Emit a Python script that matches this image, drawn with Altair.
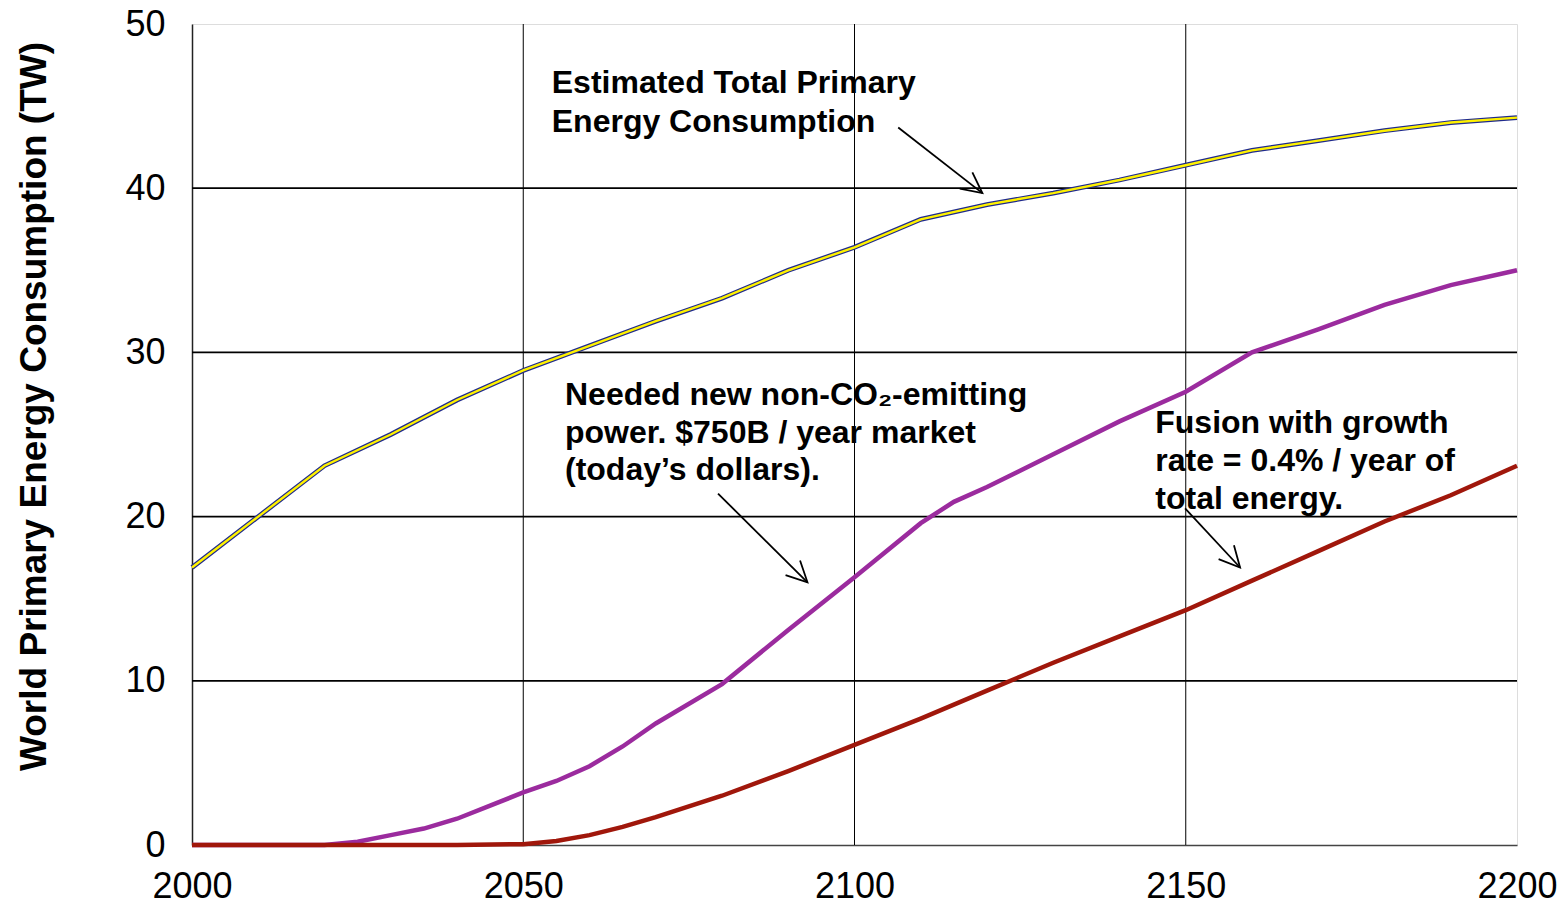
import altair as alt
import pandas as pd

# ---- data ----
total_years = [2000, 2010, 2020, 2030, 2040, 2050, 2060, 2070, 2080, 2090, 2100,
               2110, 2120, 2130, 2140, 2150, 2160, 2170, 2180, 2190, 2200]
total_vals = [16.9, 20.0, 23.1, 25.0, 27.1, 28.9, 30.4, 31.9, 33.3, 35.0, 36.4,
              38.1, 39.0, 39.7, 40.5, 41.4, 42.3, 42.9, 43.5, 44.0, 44.3]

needed_years = [2000, 2010, 2020, 2025, 2030, 2035, 2040, 2045, 2050, 2055, 2060,
                2065, 2070, 2080, 2090, 2100, 2110, 2115, 2120, 2130, 2140, 2150,
                2160, 2170, 2180, 2190, 2200]
needed_vals = [0, 0, 0, 0.2, 0.6, 1.0, 1.6, 2.4, 3.2, 3.9, 4.8,
               6.0, 7.4, 9.8, 13.1, 16.3, 19.6, 20.9, 21.8, 23.8, 25.8, 27.6,
               30.0, 31.4, 32.9, 34.1, 35.0]

fusion_years = [2000, 2040, 2050, 2055, 2060, 2065, 2070, 2080, 2090, 2100, 2110,
                2120, 2130, 2140, 2150, 2160, 2170, 2180, 2190, 2200]
fusion_vals = [0, 0, 0.05, 0.25, 0.6, 1.1, 1.7, 3.0, 4.5, 6.1, 7.7,
               9.4, 11.1, 12.7, 14.3, 16.1, 17.9, 19.7, 21.3, 23.1]

x_ticks = [2000, 2050, 2100, 2150, 2200]
y_ticks = [0, 10, 20, 30, 40, 50]
h_grid = [10, 20, 30, 40]
v_grid = [2050, 2100, 2150]

# annotation text lines: left x (year), baseline y (TW)
ann_text = ["Estimated Total Primary", "Energy Consumption",
            "Needed new non-CO\u2082-emitting", "power. $750B / year market", "(today\u2019s dollars).",
            "Fusion with growth", "rate = 0.4% / year of", "total energy."]
ann_x = [2054.3, 2054.3, 2056.3, 2056.3, 2056.3, 2145.4, 2145.4, 2145.4]
ann_y = [45.8, 43.45, 26.8, 24.5, 22.25, 25.1, 22.75, 20.45]

# arrows: tail -> tip
arr_x = [2106.6, 2079.4, 2149.9]
arr_y = [43.7, 21.4, 20.5]
arr_x2 = [2119.3, 2092.9, 2158.2]
arr_y2 = [39.7, 16.0, 16.9]
arr_angle = [37.7, 44.7, 48.0]

FONT = "Liberation Sans"
Y_TITLE = "World Primary Energy Consumption (TW)"

rows = []
for name, ys, vs in [("needed", needed_years, needed_vals),
                     ("fusion", fusion_years, fusion_vals),
                     ("total", total_years, total_vals)]:
    for yr, v in zip(ys, vs):
        rows.append({"year": yr, "value": v, "series": name})
df = pd.DataFrame(rows)

xscale = alt.Scale(domain=[2000, 2200], nice=False, zero=False)
yscale = alt.Scale(domain=[0, 50], nice=False)

X_AXIS = alt.Axis(values=x_ticks, format="d", title=None, labelFontSize=36, labelFont=FONT,
                  labelColor="black", labelPadding=24, ticks=False, grid=False,
                  domainColor="#444", domainWidth=1.5, labelFlush=False)
Y_AXIS = alt.Axis(values=y_ticks, title=Y_TITLE,
                  titleFont=FONT, titleFontSize=37, titleFontWeight="bold", titleColor="black",
                  titleAngle=-90, titleX=-147, titleY=382, titleAlign="center",
                  titleBaseline="alphabetic",
                  labelFontSize=36, labelFont=FONT, labelColor="black", labelPadding=27,
                  ticks=False, grid=False, domainColor="#222", domainWidth=1.5)


def X(field):
    return alt.X(field, scale=xscale, axis=X_AXIS, title=None)


def Y(field):
    return alt.Y(field, scale=yscale, axis=Y_AXIS, title=Y_TITLE)


hgrid = alt.Chart(pd.DataFrame({"v": h_grid})).mark_rule(color="black", strokeWidth=1.8).encode(
    y=Y("v:Q"))
vgrid = alt.Chart(pd.DataFrame({"yr": v_grid})).mark_rule(color="black", strokeWidth=1).encode(
    x=X("yr:Q"))

base = alt.Chart(df)
lines = base.transform_filter(alt.datum.series != "total").mark_line(strokeWidth=4.5).encode(
    x=X("year:Q"),
    y=Y("value:Q"),
    color=alt.Color("series:N", scale=alt.Scale(domain=["needed", "fusion"],
                                                range=["#9B2B9E", "#A0170B"]), legend=None),
    order=alt.Order("year:Q"),
)

tot = base.transform_filter(alt.datum.series == "total")
tot_outer = tot.mark_line(color="#1F2A8C", strokeWidth=4.8).encode(x=X("year:Q"), y=Y("value:Q"))
tot_inner = tot.mark_line(color="#FFF200", strokeWidth=2.4).encode(x=X("year:Q"), y=Y("value:Q"))

ann_df = pd.DataFrame({"x": ann_x, "y": ann_y, "t": ann_text})
texts = alt.Chart(ann_df).mark_text(align="left", baseline="alphabetic", fontSize=32,
                                    fontWeight="bold", font=FONT, color="black").encode(
    x=X("x:Q"), y=Y("y:Q"), text="t:N")

arr_df = pd.DataFrame({"x": arr_x, "y": arr_y, "x2": arr_x2, "y2": arr_y2, "a": arr_angle})
arrows = alt.Chart(arr_df).mark_rule(color="black", strokeWidth=1.8).encode(
    x=X("x:Q"), y=Y("y:Q"), x2="x2:Q", y2="y2:Q")
heads = alt.Chart(arr_df).mark_point(shape="M-1,-0.5L0,0L-1,0.5", filled=False, color="black",
                                     strokeWidth=1.8, size=1700, opacity=1).encode(
    x=X("x2:Q"), y=Y("y2:Q"), angle=alt.Angle("a:Q", scale=None))

chart = alt.layer(hgrid, vgrid, lines, tot_outer, tot_inner, texts, arrows, heads).properties(
    width=1325, height=821,
    autosize=alt.AutoSizeParams(type="none"),
    padding={"left": 184, "top": 16, "right": 40, "bottom": 64},
).configure_view(stroke="#999999", strokeWidth=2.5).configure(background="white")

chart.save("out.html", embed_options={"renderer": "svg", "actions": False})
